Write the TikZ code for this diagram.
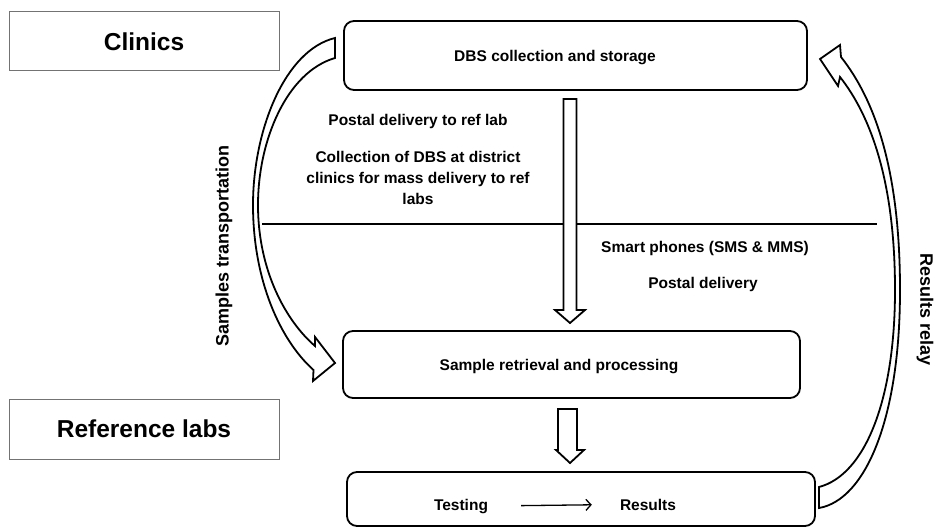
\documentclass[tikz,border=0pt]{standalone}
\usepackage{fontspec}
\setmainfont{Liberation Sans}
\usetikzlibrary{arrows.meta}
\begin{document}
\begin{tikzpicture}[x=1pt,y=-1pt,
  catbox/.style={draw=black!55, line width=1pt, inner sep=0pt,
    font=\fontsize{24.5}{28}\selectfont\bfseries},
  stagebox/.style={draw, line width=1.8pt, rounded corners=10pt, inner sep=0pt},
  lbl/.style={font=\fontsize{15.5}{21}\selectfont\bfseries, align=center, inner sep=0pt},
  side/.style={font=\fontsize{18}{20}\selectfont\bfseries, inner sep=0pt},
  blockarrow/.style={draw, line width=1.8pt, fill=white, line join=miter}]
\useasboundingbox (0,0) rectangle (934,529);

% category labels on the left
\node[catbox, minimum width=270pt, minimum height=59pt] (clinics) at (144,41.5) {Clinics};
\node[catbox, minimum width=270pt, minimum height=60pt] (reflabs) at (144,429) {Reference labs};

% process stages
\node[stagebox, minimum width=463pt, minimum height=69pt] (dbs) at (575.5,55.5) {};
\node[lbl, anchor=base] (dbsT) at (555,61.5) {DBS collection and storage};
\node[stagebox, minimum width=457pt, minimum height=67pt] (srp) at (571.5,364.5) {};
\node[lbl, anchor=base] (srpT) at (559,370.5) {Sample retrieval and processing};
\node[stagebox, minimum width=468pt, minimum height=54pt] (test) at (581,499) {};
\node[lbl, anchor=base] (testing) at (461,510) {Testing};
\node[lbl, anchor=base] (results) at (648,510) {Results};
\draw[line width=1.3pt, -{Straight Barb[length=5pt,width=11pt]},
      shorten <=33pt, shorten >=28pt] (testing.east) -- (results.west);

% transport options
\node[lbl, anchor=base] (postal) at (418,126) {Postal delivery to ref lab};
\node[lbl] (collect) at (418,178) {Collection of DBS at district\\clinics for mass delivery to ref\\labs};
\node[lbl, anchor=base] (smart) at (705,252.5) {Smart phones (SMS \& MMS)};
\node[lbl, anchor=base] (postal2) at (703,288.5) {Postal delivery};

% divider between the two directions
\coordinate (divL) at (262,224);
\coordinate (divR) at (877,224);
\draw[line width=1.3pt] (divL) -- (divR);

% side captions
\node[side, rotate=90] (samples) at (224,246) {Samples transportation};
\node[side, rotate=-90] (relay) at (925,310) {Results relay};

% hollow down arrows between stages
\draw[blockarrow] (563.5,99) -- (576.5,99) -- (576.5,310) -- (585,310)
  -- (570,323) -- (555,310) -- (563.5,310) -- cycle;
\draw[blockarrow] (558,409) -- (577,409) -- (577,450) -- (584,450)
  -- (570,463) -- (556,450) -- (558,450) -- cycle;

% curved arrow: samples transportation
\draw[blockarrow] (335,38) .. controls (285,50) and (253,130) .. (253,205)
  .. controls (253,280) and (280,340) .. (313.5,370)
  -- (313,381) -- (335,363) -- (315,337) -- (315,346)
  .. controls (287,322) and (258,272) .. (258,205)
  .. controls (258,140) and (287,72) .. (335,58) -- cycle;

% curved arrow: results relay
\draw[blockarrow] (819,508) .. controls (865,500) and (900,420) .. (900,290)
  .. controls (900,170) and (875,100) .. (841,57)
  -- (840,45) -- (820,59) -- (838,86) -- (840,77)
  .. controls (870,115) and (895,180) .. (895,290)
  .. controls (895,400) and (865,475) .. (819,487) -- cycle;
\end{tikzpicture}
\end{document}
